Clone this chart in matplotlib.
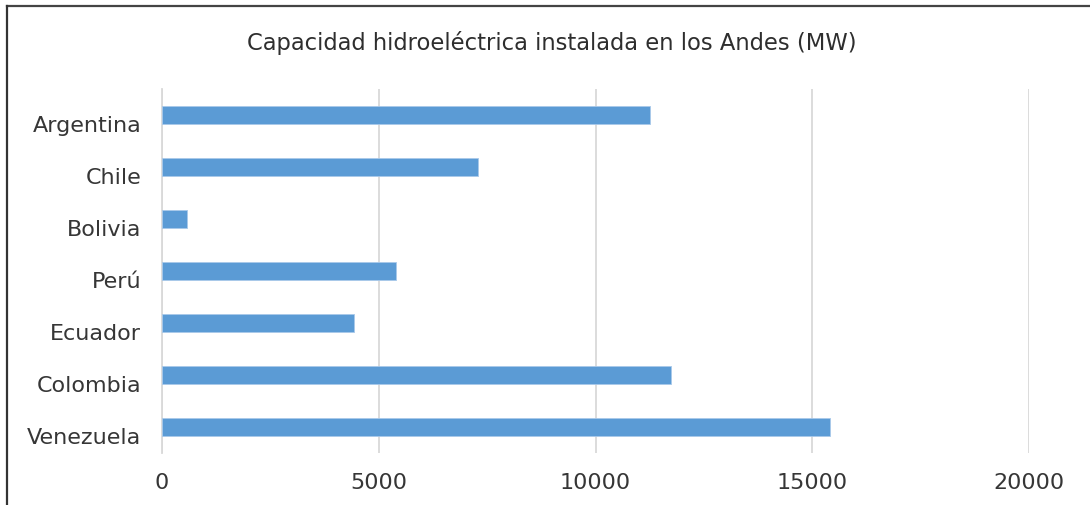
import matplotlib
matplotlib.use("Agg")
import matplotlib.pyplot as plt
from matplotlib.lines import Line2D
from matplotlib.transforms import ScaledTranslation

# Installed hydroelectric capacity per Andean country (MW)
countries = ["Argentina", "Chile", "Bolivia", "Perú", "Ecuador", "Colombia", "Venezuela"]
capacity_mw = [11250, 7300, 580, 5390, 4420, 11740, 15400]
x_ticks = [0, 5000, 10000, 15000, 20000]
title = "Capacidad hidroeléctrica instalada en los Andes (MW)"

BAR = "#5B9BD5"
GRID = "#D9D9D9"
TEXT = "#363636"

W, H = 1090, 506
fig = plt.figure(figsize=(W / 100, H / 100), dpi=100)
fig.patch.set_facecolor("white")

left, right = 162 / W, 1029 / W
top, bottom = 1 - 90.4 / H, 1 - 454 / H
ax = fig.add_axes([left, bottom, right - left, top - bottom])

ypos = list(range(len(countries)))
ax.barh(ypos, capacity_mw, height=0.35, color=BAR, edgecolor="#A9C9EA",
        linewidth=0.6, zorder=3)

ax.set_xlim(0, 20000)
ax.set_ylim(len(countries) - 0.5, -0.5)
ax.set_xticks(x_ticks)
ax.set_xticklabels([str(v) for v in x_ticks])
ax.set_yticks(ypos)
ax.set_yticklabels(countries)

ax.grid(axis="x", color=GRID, linewidth=1.3, zorder=0)
ax.grid(axis="y", visible=False)
for side in ("top", "right", "bottom"):
    ax.spines[side].set_visible(False)
ax.spines["left"].set_color(GRID)
ax.spines["left"].set_linewidth(1.3)
ax.spines["left"].set_zorder(1)

ax.tick_params(axis="both", length=0, labelsize=16, colors=TEXT)
ax.tick_params(axis="y", pad=15)
ax.tick_params(axis="x", pad=14)

# Category labels sit slightly below the bar centres
shift = ScaledTranslation(0, -8 / 100, fig.dpi_scale_trans)
for lbl in ax.get_yticklabels():
    lbl.set_transform(lbl.get_transform() + shift)

fig.text(552 / W, 1 - 43 / H, title, ha="center", va="center",
         fontsize=16.3, color="#2e2e2e")

# Frame lines along the top and left edges
fig.add_artist(Line2D([6.5 / W, 1], [1 - 6.5 / H, 1 - 6.5 / H],
                      transform=fig.transFigure, color="#444444", linewidth=1.6))
fig.add_artist(Line2D([6.5 / W, 6.5 / W], [0, 1 - 6.5 / H],
                      transform=fig.transFigure, color="#333333", linewidth=1.6))

fig.savefig("out.png", dpi=100, facecolor="white")
